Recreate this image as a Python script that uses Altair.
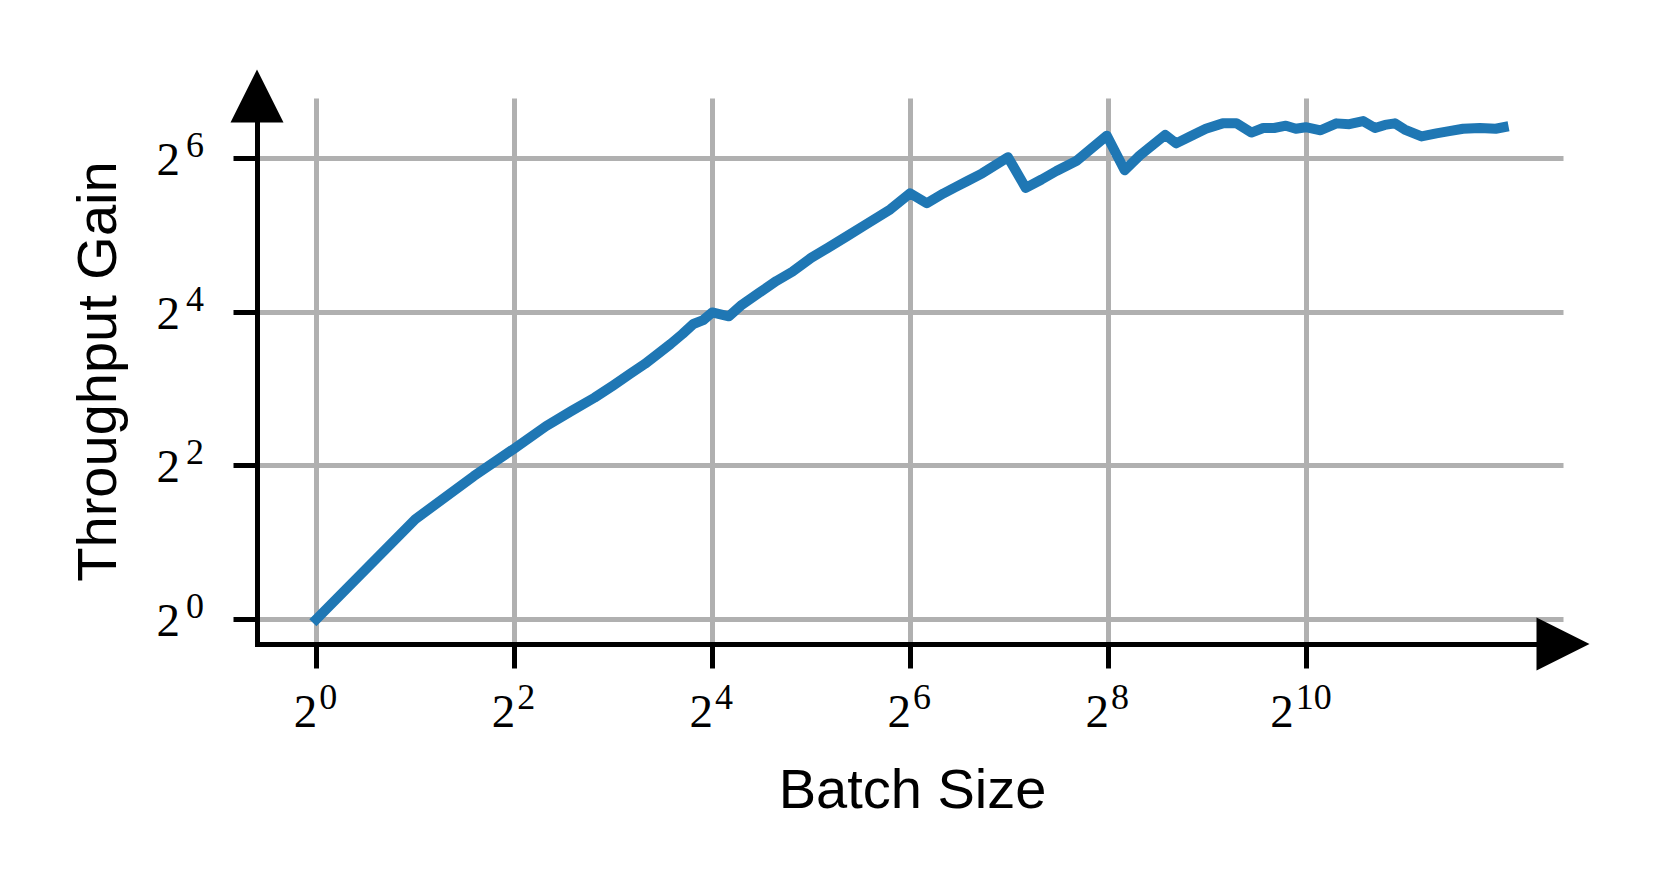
import altair as alt
import pandas as pd

# log2(batch size) and log2(throughput gain)
log2_batch = [0.00, 1.00, 1.59, 2.00, 2.32, 2.58, 2.81, 3.00, 3.17, 3.32, 3.46, 3.58,
              3.70, 3.81, 3.91, 4.00, 4.17, 4.30, 4.47, 4.65, 4.81, 5.00, 5.17, 5.36,
              5.55, 5.80, 6.00, 6.17, 6.34, 6.46, 6.58, 6.73, 6.99, 7.17, 7.33, 7.48,
              7.68, 7.99, 8.17, 8.32, 8.58, 8.69, 8.83, 8.99, 9.16, 9.30, 9.45, 9.57,
              9.68, 9.80, 9.90, 10.00, 10.15, 10.31, 10.44, 10.58, 10.70, 10.80, 10.90,
              11.00, 11.17, 11.32, 11.45, 11.59, 11.76, 11.92, 12.00]
log2_gain = [0.00, 1.30, 1.86, 2.22, 2.51, 2.71, 2.88, 3.04, 3.19, 3.32, 3.46, 3.58,
             3.71, 3.84, 3.89, 3.99, 3.94, 4.09, 4.24, 4.40, 4.52, 4.70, 4.83, 4.98,
             5.13, 5.33, 5.54, 5.41, 5.54, 5.62, 5.70, 5.80, 6.01, 5.61, 5.72, 5.83,
             5.96, 6.29, 5.84, 6.03, 6.30, 6.19, 6.28, 6.38, 6.45, 6.45, 6.33, 6.39,
             6.39, 6.42, 6.38, 6.40, 6.36, 6.45, 6.44, 6.48, 6.39, 6.43, 6.45,
             6.37, 6.28, 6.32, 6.35, 6.38, 6.39, 6.38, 6.40]

# tick positions (log2) and their labels: base "2" with an exponent
x_tick_values = [0, 2, 4, 6, 8, 10]
x_tick_exponents = ["0", "2", "4", "6", "8", "10"]
y_tick_values = [0, 2, 4, 6]
y_tick_exponents = ["0", "2", "4", "6"]
tick_base = "2"

x_title = "Batch Size"
y_title = "Throughput Gain"

df = pd.DataFrame({"x": log2_batch, "y": log2_gain})
x_lab = pd.DataFrame({"x": x_tick_values, "base": [tick_base] * len(x_tick_values),
                      "exp": x_tick_exponents})
y_lab = pd.DataFrame({"y": y_tick_values, "base": [tick_base] * len(y_tick_values),
                      "exp": y_tick_exponents})

W, H = 1306, 546
LINE_COLOR = "#1f77b4"
GRID_COLOR = "#b0b0b0"
SERIF = "Liberation Serif"
SANS = "Liberation Sans"
BASE_SIZE = 47
EXP_SIZE = 36
EXP_RAISE = 18

X_SCALE = alt.Scale(domain=[-0.6, 12.6], nice=False, zero=False)
Y_SCALE = alt.Scale(domain=[-0.323, 6.78], nice=False, zero=False)

common_axis = dict(
    domainColor="black", domainWidth=5, domainCap="square",
    tickColor="black", tickWidth=5, tickSize=24,
    gridColor=GRID_COLOR, gridWidth=5,
    labels=False,
    titleFont=SANS, titleFontSize=56, titleFontWeight="normal",
    titleColor="black",
)

x_enc = alt.X(
    "x:Q", scale=X_SCALE,
    axis=alt.Axis(
        values=x_tick_values, title=x_title,
        titleBaseline="alphabetic", titleAlign="center", titleX=655, titleY=163,
        **common_axis,
    ),
)
y_enc = alt.Y(
    "y:Q", scale=Y_SCALE,
    axis=alt.Axis(
        values=y_tick_values, title=y_title,
        titleBaseline="alphabetic", titleAlign="center", titleAngle=270,
        titleX=-142, titleY=273,
        **common_axis,
    ),
)

line = alt.Chart(df).mark_line(
    color=LINE_COLOR, strokeWidth=10, strokeCap="square", strokeJoin="round", clip=False
).encode(x=x_enc, y=y_enc)

# x tick labels "2^k"
X_BASE_Y = H + 83


def x_label_layers(ndig, base_dx, exp_dx):
    src = alt.Chart(x_lab).transform_filter(f"length(datum.exp) == {ndig}")
    base = src.mark_text(align="right", baseline="alphabetic", font=SERIF,
                         fontSize=BASE_SIZE, color="black", dx=base_dx).encode(
        x=alt.X("x:Q", scale=X_SCALE, axis=None), y=alt.value(X_BASE_Y), text="base:N")
    exp = src.mark_text(align="left", baseline="alphabetic", font=SERIF,
                        fontSize=EXP_SIZE, color="black", dx=exp_dx).encode(
        x=alt.X("x:Q", scale=X_SCALE, axis=None), y=alt.value(X_BASE_Y - EXP_RAISE),
        text="exp:N")
    return [base, exp]


x_labels = x_label_layers(1, 1, 3) + x_label_layers(2, -12, -10)

# y tick labels "2^k"
y_base = alt.Chart(y_lab).mark_text(
    align="right", baseline="alphabetic", font=SERIF, fontSize=BASE_SIZE,
    color="black", dy=17).encode(
    x=alt.value(-77), y=alt.Y("y:Q", scale=Y_SCALE, axis=None), text="base:N")
y_exp = alt.Chart(y_lab).mark_text(
    align="right", baseline="alphabetic", font=SERIF, fontSize=EXP_SIZE,
    color="black", dy=17 - EXP_RAISE).encode(
    x=alt.value(-53), y=alt.Y("y:Q", scale=Y_SCALE, axis=None), text="exp:N")

one = pd.DataFrame({"k": [0]})
arrow_right = alt.Chart(one).mark_point(
    shape="M-1,-1L1,0L-1,1Z", filled=True, color="black", opacity=1, size=2809, clip=False
).encode(x=alt.value(W), y=alt.value(H))
arrow_up = alt.Chart(one).mark_point(
    shape="M-1,1L0,-1L1,1Z", filled=True, color="black", opacity=1, size=2809, clip=False
).encode(x=alt.value(0), y=alt.value(-2))

chart = alt.layer(line, *x_labels, y_base, y_exp, arrow_right, arrow_up).resolve_axis(
    x="independent", y="independent"
).properties(
    width=W, height=H,
    autosize=alt.AutoSizeParams(type="none"),
    padding={"left": 249, "top": 90, "right": 90, "bottom": 230},
).configure_view(stroke=None)

chart.save("out.html", embed_options={"renderer": "svg", "actions": False})
